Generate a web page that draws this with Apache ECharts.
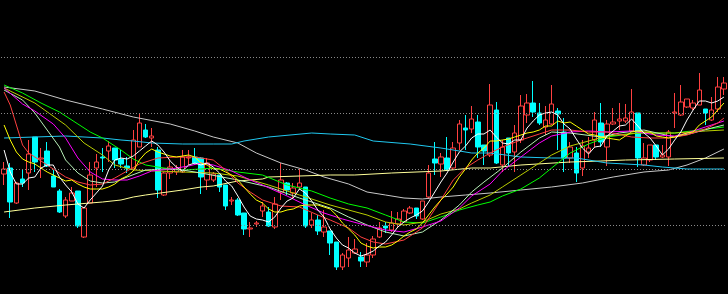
<!DOCTYPE html>
<html><head><meta charset="utf-8">
<script src="https://cdn.jsdelivr.net/npm/echarts@6/dist/echarts.min.js"></script>
<style>html,body{margin:0;padding:0;background:#000;}#c{width:728px;height:294px;}</style>
</head><body><div id="c"></div>
<script>
const openP=[126,132,97,121,127,163,141,149,124,109,84,99,109,63,97,132,143,149,152,141,134,131,153,170,162,150,105,127,128,128,142,143,142,120,120,125,115,99,100,87,71,76,89,88,73,108,117,107,113,113,75,80,68,69,58,33,42,47,43,38,45,63,74,70,76,78,87,92,81,103,141,136,142,132,157,172,171,178,155,145,190,135,162,148,160,185,197,187,173,176,189,168,142,147,132,148,160,177,153,176,179,179,169,187,135,140,155,143,143,187,185,193,192,195,191,180,191,211];
const closeP=[131,98,117,117,146,138,142,134,113,88,100,107,74,92,125,138,142,154,140,136,132,160,177,163,164,110,127,133,131,143,143,137,123,137,126,113,94,100,85,71,72,77,94,74,96,120,110,112,117,74,80,69,73,57,33,45,50,51,39,45,61,72,72,77,81,89,92,84,99,127,137,143,130,152,176,170,181,153,149,195,137,153,147,167,194,197,188,177,180,196,186,142,153,127,154,152,180,158,176,178,181,182,188,142,142,155,143,145,168,188,198,201,197,210,187,190,213,217];
const lowP=[115,82,96,113,110,128,122,133,113,87,82,99,72,62,97,113,128,138,132,132,127,131,153,162,153,102,104,121,125,127,135,135,106,110,118,108,90,95,84,65,63,73,83,73,71,100,105,102,110,72,72,65,63,45,30,30,33,46,33,33,42,62,67,68,72,77,86,81,80,101,125,123,129,130,150,150,167,142,135,143,136,128,133,128,157,177,183,175,165,175,150,128,137,118,124,142,153,153,134,175,170,177,168,133,134,138,140,142,134,172,184,192,190,195,175,179,188,205];
const highP=[138,137,118,130,160,163,152,158,130,111,103,113,109,93,138,146,152,159,152,150,143,170,187,176,172,153,128,139,135,150,150,152,143,142,128,125,115,103,102,87,78,79,98,93,103,137,118,117,131,113,87,85,90,69,58,47,63,61,48,57,64,78,78,89,88,91,94,92,99,135,158,147,163,158,180,185,194,185,155,216,198,160,162,175,205,206,219,197,194,215,192,182,158,153,160,163,188,197,180,192,197,196,211,187,157,155,155,155,170,207,215,201,200,227,191,203,223,223];
const ma5=[150,128,116,116,122,123,132,135,135,123,115,108,96,92,100,107,114,130,140,142,141,144,149,154,159,155,148,139,133,129,135,137,135,137,133,127,119,114,104,93,84,81,80,78,83,92,99,102,111,107,99,90,83,71,62,55,52,47,44,46,49,54,58,65,73,78,82,85,89,98,108,118,127,138,148,154,162,166,166,170,163,157,156,160,160,172,179,185,187,188,185,176,171,161,152,146,153,154,164,169,174,175,181,174,167,162,154,145,151,160,168,180,190,199,199,197,199,203];
const ma10=[175,160,148,141,138,136,132,128,125,122,119,120,116,113,111,111,111,113,116,121,124,129,140,147,151,148,146,144,143,144,145,143,137,135,131,131,128,125,120,113,106,100,97,91,88,88,90,91,94,95,95,95,93,91,85,77,71,65,57,54,52,53,53,55,59,64,68,71,77,85,93,100,106,113,123,131,140,147,152,159,159,160,161,163,165,167,168,170,174,174,179,177,178,174,170,166,165,163,162,161,160,164,168,169,168,168,164,163,162,163,165,167,168,175,179,183,190,197];
const redLine=[[0,208],[1,195],[2,175],[3,155],[4,147],[5,143],[7,135],[10,123],[12,118],[14,115],[16,116],[18,122],[20,129],[22,136],[25,142],[28,143],[31,143],[34,140],[36,130],[38,117],[40,108],[42,100],[45,94],[48,93],[51,85],[53,80],[56,72],[58,63],[60,58],[62,56],[65,60],[68,72],[71,100],[73,120],[75,132],[77,140],[79,147],[81,153],[84,160],[87,166],[89,170],[92,170],[95,168],[98,168],[102,163],[105,162],[108,162],[111,165],[114,171],[116,177],[117,182]];
const magentaLine=[[0,212],[3,196],[5,189],[8,176],[10,162],[12,142],[14,128],[16,121],[18,120],[20,120],[22,124],[24,129],[27,131],[30,134],[32,137],[34,135],[37,129],[40,120],[42,115],[46,104],[49,95],[52,87],[55,81],[58,76],[62,70],[65,68],[68,73],[71,79],[74,92],[76,104],[79,116],[81,129],[84,143],[87,157],[89,164],[92,168],[95,169],[98,168],[102,169],[106,165],[109,164],[111,167],[114,173],[117,179]];
const paleGreenLine=[[0,210],[3,200],[5,187],[7,170],[9,153],[10,140],[12,127],[14,119],[16,117],[18,118],[20,123],[23,130],[26,131],[29,130],[32,127],[38,120],[43,113],[48,102],[53,92],[56,83],[59,75],[62,68],[65,64],[68,68],[71,80],[74,95],[76,108],[78,118],[81,132],[84,148],[87,162],[89,168],[92,167],[97,163],[100,167],[104,170],[109,163],[112,167],[115,172],[117,175]];
const oliveLine=[[0,212],[5,197],[10,175],[13,157],[16,145],[18,135],[21,130],[29,128],[34,127],[38,124],[43,115],[48,105],[53,95],[56,90],[59,85],[62,78],[65,75],[68,78],[71,86],[74,91],[76,97],[79,105],[81,113],[84,125],[87,137],[89,145],[92,154],[95,159],[98,164],[103,167],[109,167],[114,169],[117,170]];
const greenLine=[[0,215],[3,207],[6,197],[9,188],[12,176],[14,168],[16,162],[19,150],[21,141],[23,135],[26,132],[29,130],[32,131],[34,132],[38,128],[42,125],[46,115],[50,109],[53,102],[56,96],[59,92],[62,85],[65,78],[68,77],[71,83],[74,90],[77,95],[79,98],[81,104],[84,111],[87,122],[89,132],[92,147],[95,156],[98,163],[103,167],[109,167],[113,170],[117,173]];
const cyanLine=[[0,162],[5,163],[10,164],[16,162],[19,160],[21,159],[24,157],[29,156],[34,156],[37,156],[39,159],[43,163],[50,167],[53,166],[57,165],[60,159],[66,156],[71,152],[76,147],[79,147],[84,143],[89,142],[93,142],[98,137],[104,135],[107,133],[111,131],[117,131]];
const paleYellowLine=[[0,88],[5,92],[10,95],[16,98],[19,100],[21,103],[23,105],[29,110],[32,113],[34,114],[38,119],[42,121],[43,123],[48,124],[53,125],[57,125],[63,127],[71,129],[76,132],[79,132],[84,135],[92,138],[97,139],[101,140],[109,141],[117,142]];
const grayLine=[[0,213],[5,209],[10,200],[16,191],[21,183],[27,176],[31,169],[34,163],[38,157],[41,147],[45,137],[49,130],[52,123],[56,116],[59,108],[62,105],[65,102],[68,101],[71,103],[75,105],[79,107],[84,110],[89,113],[94,117],[99,123],[104,128],[108,130],[111,135],[114,142],[117,151]];
const gridLevels=[243,187,131,75];
const categories=openP.map((_,i)=>String(i+1));

const candles=openP.map((o,i)=>[o,closeP[i],lowP[i],highP[i]]);
function line(data,color){return {type:'line',data:data,symbol:'none',smooth:false,lineStyle:{color:color,width:1},silent:true,z:3};}
const chart=echarts.init(document.getElementById('c'),null,{renderer:'canvas'});
chart.setOption({
  animation:false,
  backgroundColor:'#000',
  grid:{left:1,right:1,top:0,bottom:0},
  xAxis:{type:'category',data:categories,show:false,boundaryGap:true},
  yAxis:{type:'value',min:6,max:300,show:false,splitLine:{show:false}},
  series:[
    {type:'candlestick',data:candles,barWidth:5,z:2,
     itemStyle:{color:'#000',color0:'#00ffff',borderColor:'#ff4040',borderColor0:'#00ffff',borderWidth:1},
     markLine:{silent:true,symbol:'none',label:{show:false},
       lineStyle:{color:'#8a8a8a',type:[1,2],width:1},
       data:gridLevels.map(v=>({yAxis:v}))}},
    line(grayLine,'#c8c8c8'),
    line(paleYellowLine,'#ffff99'),
    line(cyanLine,'#20c8f0'),
    line(greenLine,'#00ff00'),
    line(oliveLine,'#b8cc00'),
    line(paleGreenLine,'#b8f0b8'),
    line(magentaLine,'#ff00ff'),
    line(redLine,'#ff4040'),
    line(ma10.map((v,i)=>[i,v]),'#ffff00'),
    line(ma5.map((v,i)=>[i,v]),'#ffffff')
  ]
});
</script></body></html>
